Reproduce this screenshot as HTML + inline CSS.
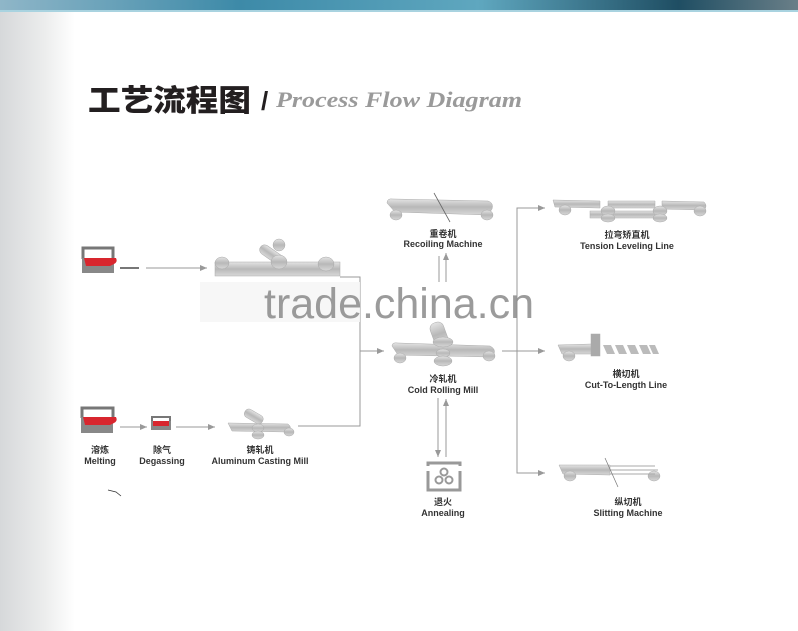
<!DOCTYPE html>
<html><head><meta charset="utf-8"><style>
html,body{margin:0;padding:0;background:#fff;}
svg{display:block;}
</style></head><body>
<svg width="798" height="631" viewBox="0 0 798 631" xmlns="http://www.w3.org/2000/svg">
<defs>
<linearGradient id="lg" x1="0" x2="1" y1="0" y2="0">
<stop offset="0" stop-color="#d6d8da"/><stop offset="0.6" stop-color="#eceded"/><stop offset="1" stop-color="#fff"/>
</linearGradient>
<linearGradient id="top" x1="0" x2="1" y1="0" y2="0">
<stop offset="0" stop-color="#8fb6c8"/><stop offset="0.3" stop-color="#3d8aa8"/><stop offset="0.6" stop-color="#5fa7bf"/><stop offset="0.85" stop-color="#1f4e63"/><stop offset="1" stop-color="#6a7f88"/>
</linearGradient>
<linearGradient id="met" x1="0" x2="0" y1="0" y2="1">
<stop offset="0" stop-color="#e4e4e4"/><stop offset="0.5" stop-color="#b8b8b8"/><stop offset="1" stop-color="#d8d8d8"/>
</linearGradient>
<marker id="ah" markerWidth="8" markerHeight="8" refX="7" refY="4" orient="auto" markerUnits="userSpaceOnUse">
<path d="M0,1 L7,4 L0,7 Z" fill="#999"/></marker>
</defs>
<rect x="0" y="0" width="798" height="631" fill="#fff"/>
<rect x="0" y="10" width="75" height="621" fill="url(#lg)"/>
<rect x="0" y="0" width="798" height="11" fill="url(#top)"/>
<rect x="0" y="10" width="798" height="2" fill="#a9d3e0"/>

<!-- Title -->
<text x="88" y="111" font-family="'Noto Sans CJK SC',sans-serif" font-weight="900" font-size="30" fill="#231f20" textLength="163" lengthAdjust="spacingAndGlyphs">工艺流程图</text>
<text x="261" y="110" font-family="'Liberation Sans',sans-serif" font-weight="bold" font-size="26" fill="#231f20">/</text>
<text x="276" y="107" font-family="'Liberation Serif',serif" font-style="italic" font-weight="bold" font-size="22" fill="#9a9a9a" textLength="246" lengthAdjust="spacingAndGlyphs">Process Flow Diagram</text>

<g stroke="#999" stroke-width="1" fill="none">
<line x1="120" y1="268" x2="139" y2="268" stroke="#777" stroke-width="2"/>
<line x1="146" y1="268" x2="207" y2="268" marker-end="url(#ah)"/>
<polyline points="340,277 360,277 360,426 298,426"/>
<line x1="360" y1="351" x2="384" y2="351" marker-end="url(#ah)"/>
<line x1="439" y1="282" x2="439" y2="256"/>
<line x1="446" y1="282" x2="446" y2="253" marker-end="url(#ah)"/>
<line x1="438" y1="398" x2="438" y2="457" marker-end="url(#ah)"/>
<line x1="446" y1="457" x2="446" y2="399" marker-end="url(#ah)"/>
<line x1="502" y1="351" x2="545" y2="351" marker-end="url(#ah)"/>
<polyline points="545,208 517,208 517,473 545,473"/>
<line x1="530" y1="208" x2="545" y2="208" marker-end="url(#ah)"/>
<line x1="530" y1="473" x2="545" y2="473" marker-end="url(#ah)"/>
<line x1="120" y1="427" x2="147" y2="427" marker-end="url(#ah)"/>
<line x1="176" y1="427" x2="215" y2="427" marker-end="url(#ah)"/>
</g>

<g>
<path d="M83,259 V248 H113 V259" fill="none" stroke="#777" stroke-width="3"/>
<rect x="82" y="258" width="32" height="15" fill="#888"/>
<path d="M84,258 H116 Q118,262 114,264 L110,266 H86 Z" fill="#d8262e"/>
</g>
<g>
<path d="M82,418 V408 H113 V418" fill="none" stroke="#777" stroke-width="3"/>
<rect x="81" y="417" width="32" height="16" fill="#888"/>
<path d="M83,417 H116 Q118,421 114,423 L110,425 H85 Z" fill="#d8262e"/>
</g>
<g>
<path d="M152,422 V417 H170 V422" fill="none" stroke="#777" stroke-width="2"/>
<rect x="151" y="421" width="20" height="9" fill="#888"/>
<rect x="153" y="421" width="16" height="5" fill="#d8262e"/>
</g>

<g fill="url(#met)" stroke="#aaa" stroke-width="0.5">
<rect x="215" y="262" width="125" height="14"/>
<rect x="258" y="250" width="28" height="10" rx="5" transform="rotate(35 272 255)"/>
<ellipse cx="222" cy="263" rx="7" ry="6"/>
<ellipse cx="279" cy="262" rx="8" ry="7"/>
<ellipse cx="326" cy="264" rx="8" ry="7"/>
<ellipse cx="279" cy="245" rx="6" ry="6"/>
</g>
<rect x="200" y="282" width="160" height="40" fill="#f6f6f6" opacity="0.9"/>

<text x="264" y="318" font-family="'Liberation Sans',sans-serif" font-size="43" fill="#8a8a8a" opacity="0.85" textLength="270">trade.china.cn</text>

<g fill="url(#met)" stroke="#aaa" stroke-width="0.5">
<path d="M387,203 Q387,198 393,199 L488,201 Q494,203 492,209 L488,215 L395,212 Z"/>
<ellipse cx="396" cy="215" rx="6" ry="5"/>
<ellipse cx="487" cy="215" rx="6" ry="5"/>
</g>
<line x1="434" y1="193" x2="450" y2="222" stroke="#666" stroke-width="0.8"/>

<g fill="url(#met)" stroke="#aaa" stroke-width="0.5">
<path d="M392,346 Q392,342 398,343 L490,346 Q496,349 494,354 L490,357 L398,355 Z"/>
<ellipse cx="400" cy="358" rx="6" ry="5"/>
<ellipse cx="489" cy="356" rx="6" ry="5"/>
<rect x="432" y="322" width="14" height="24" rx="6" transform="rotate(-20 439 334)"/>
<ellipse cx="443" cy="342" rx="10" ry="5"/>
<ellipse cx="443" cy="353" rx="7" ry="4"/>
<ellipse cx="443" cy="361" rx="9" ry="5"/>
</g>

<g>
<path d="M428,466 V463 H460 V466 M428,471 V490 H460 V471" fill="none" stroke="#999" stroke-width="3"/>
<circle cx="444" cy="472" r="3.5" fill="none" stroke="#999" stroke-width="2"/>
<circle cx="439" cy="480" r="3.5" fill="none" stroke="#999" stroke-width="2"/>
<circle cx="449" cy="480" r="3.5" fill="none" stroke="#999" stroke-width="2"/>
</g>

<g fill="url(#met)" stroke="#aaa" stroke-width="0.5">
<path d="M553,200 L600,201 L600,208 L555,207 Z"/>
<path d="M608,201 L655,201 L655,208 L608,208 Z"/>
<path d="M662,201 L704,202 Q708,206 704,210 L662,209 Z"/>
<rect x="590" y="211" width="70" height="7"/>
<ellipse cx="565" cy="210" rx="6" ry="5"/>
<ellipse cx="700" cy="211" rx="6" ry="5"/>
<ellipse cx="608" cy="211" rx="7" ry="5"/><ellipse cx="608" cy="218" rx="7" ry="4"/>
<ellipse cx="660" cy="211" rx="7" ry="5"/><ellipse cx="660" cy="218" rx="7" ry="4"/>
</g>

<g fill="url(#met)" stroke="#aaa" stroke-width="0.5">
<path d="M558,345 L592,344 L592,354 L562,354 Z"/>
<ellipse cx="569" cy="356" rx="6" ry="5"/>
<rect x="591" y="334" width="9" height="22" fill="#aaa"/>
</g>
<g fill="#bbb">
<polygon points="603,345 611,345 615,354 607,354"/>
<polygon points="615,345 623,345 627,354 619,354"/>
<polygon points="627,345 635,345 639,354 631,354"/>
<polygon points="639,345 647,345 651,354 643,354"/>
<polygon points="649,345 655,345 659,354 653,354"/>
</g>

<g fill="url(#met)" stroke="#aaa" stroke-width="0.5">
<path d="M559,465 L610,465 L610,475 L563,474 Z"/>
<ellipse cx="570" cy="476" rx="6" ry="5"/>
<ellipse cx="654" cy="476" rx="6" ry="5"/>
</g>
<g stroke="#aaa" stroke-width="1">
<line x1="610" y1="466" x2="655" y2="466"/><line x1="610" y1="470" x2="658" y2="470"/><line x1="610" y1="474" x2="655" y2="474"/>
<line x1="605" y1="458" x2="618" y2="487" stroke="#777" stroke-width="0.7"/>
</g>

<g fill="url(#met)" stroke="#aaa" stroke-width="0.5">
<path d="M228,423 L288,424 Q293,428 288,432 L232,431 Z"/>
<ellipse cx="289" cy="432" rx="5" ry="4"/>
<rect x="244" y="412" width="20" height="9" rx="4" transform="rotate(30 254 416)"/>
<ellipse cx="258" cy="428" rx="6" ry="4"/>
<ellipse cx="258" cy="435" rx="6" ry="4"/>
</g>
<path d="M108,490 L116,492 L121,496" stroke="#333" fill="none" stroke-width="0.8"/>

<g font-family="'Liberation Sans','Noto Sans CJK SC',sans-serif" font-size="9" font-weight="bold" fill="#333" text-anchor="middle">
<text x="443" y="237">重卷机</text><text x="443" y="247">Recoiling Machine</text>
<text x="443" y="382">冷轧机</text><text x="443" y="393">Cold Rolling Mill</text>
<text x="443" y="505">退火</text><text x="443" y="516">Annealing</text>
<text x="627" y="238">拉弯矫直机</text><text x="627" y="249">Tension Leveling Line</text>
<text x="626" y="377">横切机</text><text x="626" y="388">Cut-To-Length Line</text>
<text x="628" y="505">纵切机</text><text x="628" y="516">Slitting Machine</text>
<text x="100" y="453">溶炼</text><text x="100" y="464">Melting</text>
<text x="162" y="453">除气</text><text x="162" y="464">Degassing</text>
<text x="260" y="453">铸轧机</text><text x="260" y="464">Aluminum Casting Mill</text>
</g>
</svg>
</body></html>
